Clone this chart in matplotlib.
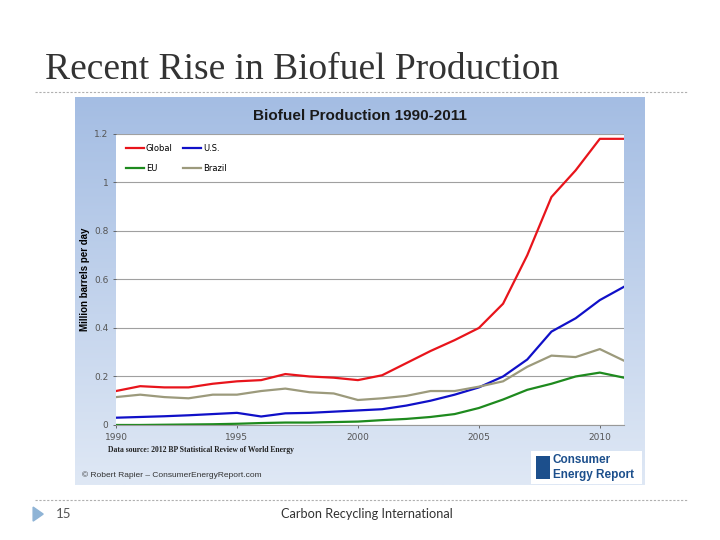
import numpy as np
import matplotlib
matplotlib.use('Agg')
import matplotlib.pyplot as plt
from matplotlib.patches import Rectangle, Polygon
from matplotlib.lines import Line2D

# data (million barrels per day)
years = list(range(1990, 2012))
global_prod = [0.14, 0.16, 0.155, 0.155, 0.17, 0.18, 0.185, 0.21, 0.20, 0.195, 0.185,
               0.205, 0.255, 0.305, 0.35, 0.40, 0.50, 0.70, 0.94, 1.05, 1.18, 1.18]
us_prod = [0.03, 0.033, 0.036, 0.04, 0.045, 0.05, 0.035, 0.048, 0.05, 0.055, 0.06,
           0.065, 0.08, 0.10, 0.125, 0.155, 0.20, 0.27, 0.385, 0.44, 0.515, 0.57]
eu_prod = [0.0, 0.0, 0.001, 0.002, 0.003, 0.005, 0.008, 0.01, 0.01, 0.012, 0.014,
           0.02, 0.025, 0.033, 0.045, 0.07, 0.105, 0.145, 0.17, 0.20, 0.216, 0.195]
brazil_prod = [0.115, 0.125, 0.115, 0.11, 0.125, 0.125, 0.14, 0.15, 0.135, 0.13, 0.103,
               0.11, 0.12, 0.14, 0.14, 0.158, 0.18, 0.24, 0.286, 0.28, 0.313, 0.265]
xticks = [1990, 1995, 2000, 2005, 2010]
yticks = [0, 0.2, 0.4, 0.6, 0.8, 1.0, 1.2]
ytick_labels = ['0', '0.2', '0.4', '0.6', '0.8', '1', '1.2']

fig = plt.figure(figsize=(7.2, 5.4), dpi=100)
fig.patch.set_facecolor('white')

# slide title and separators
fig.text(0.062, 0.870, 'Recent Rise in Biofuel Production', fontsize=27,
         family='Liberation Serif', color='#333333', va='center')
fig.add_artist(Line2D([0.048, 0.955], [0.830, 0.830], color='#b0b0b0', lw=0.8,
                      ls=(0, (2, 1.5))))
fig.add_artist(Line2D([0.048, 0.955], [0.074, 0.074], color='#b0b0b0', lw=0.8,
                      ls=(0, (2, 1.5))))
fig.add_artist(Polygon([[0.046, 0.061], [0.046, 0.035], [0.060, 0.048]],
                       closed=True, color='#8fb4d6', transform=fig.transFigure))
fig.text(0.077, 0.048, '15', fontsize=9.5, family='Lato', color='#555555', va='center')
fig.text(0.51, 0.048, 'Carbon Recycling International', fontsize=9.2, family='Lato',
         color='#333333', va='center', ha='center')

# chart panel with blue gradient background
bg = fig.add_axes([0.1042, 0.1019, 0.7916, 0.7185])
grad = np.linspace(0, 1, 256).reshape(-1, 1)
cmap = matplotlib.colors.LinearSegmentedColormap.from_list(
    'bg', ['#a4bde3', '#dfe8f5'])
bg.imshow(grad, aspect='auto', cmap=cmap, extent=[0, 1, 0, 1])
bg.set_xlim(0, 1)
bg.set_ylim(0, 1)
bg.axis('off')
bg.text(0.5, 0.952, 'Biofuel Production 1990-2011', ha='center', va='center',
        fontsize=11, fontweight='bold', color='#1a1a1a', family='Liberation Sans')
bg.text(0.058, 0.090, 'Data source: 2012 BP Statistical Review of World Energy',
        fontsize=5.5, fontweight='bold', family='Liberation Serif', color='#222222',
        va='center')
bg.text(0.012, 0.026, '\u00a9 Robert Rapier \u2013 ConsumerEnergyReport.com',
        fontsize=6, family='Liberation Sans', color='#333333', va='center')
# logo box
bg.add_patch(Rectangle((0.80, 0.003), 0.195, 0.085, facecolor='white',
                       edgecolor='none'))
bg.add_patch(Rectangle((0.808, 0.015), 0.026, 0.06, facecolor='#1c4f8c',
                       edgecolor='none'))
bg.text(0.838, 0.064, 'Consumer', fontsize=8.5, fontweight='bold',
        color='#1c4f8c', va='center', family='Liberation Sans')
bg.text(0.838, 0.026, 'Energy Report', fontsize=8.5, fontweight='bold',
        color='#1c4f8c', va='center', family='Liberation Sans')

# main plot
ax = fig.add_axes([0.1611, 0.2130, 0.7056, 0.5389])
ax.set_facecolor('white')
l_global, = ax.plot(years, global_prod, color='#e8141b', lw=1.6, label='Global')
l_us, = ax.plot(years, us_prod, color='#1010c8', lw=1.6, label='U.S.')
l_eu, = ax.plot(years, eu_prod, color='#1e8a1e', lw=1.6, label='EU')
l_br, = ax.plot(years, brazil_prod, color='#9c9a7c', lw=1.6, label='Brazil')

ax.set_xlim(1990, 2011)
ax.set_ylim(0, 1.2)
ax.set_xticks(xticks)
ax.set_yticks(yticks)
ax.set_yticklabels(ytick_labels)
ax.tick_params(axis='both', labelsize=6.5, colors='#555555', length=2, width=0.6)
ax.tick_params(axis='x', pad=4)
ax.grid(axis='y', color='#a0a0a0', lw=0.8)
ax.set_axisbelow(True)
for s in ['top', 'right', 'left']:
    ax.spines[s].set_visible(False)
ax.spines['bottom'].set_color('#999999')
ax.set_ylabel('Million barrels per day', fontsize=7, fontweight='bold',
              family='Liberation Sans', labelpad=3)

ax.legend(handles=[l_global, l_eu, l_us, l_br], ncol=2, loc='upper left',
          frameon=False, fontsize=6, handlelength=2.2, handletextpad=0.2,
          columnspacing=1.2, labelspacing=1.3, borderaxespad=0.8)

plt.savefig('out.png', dpi=100)
